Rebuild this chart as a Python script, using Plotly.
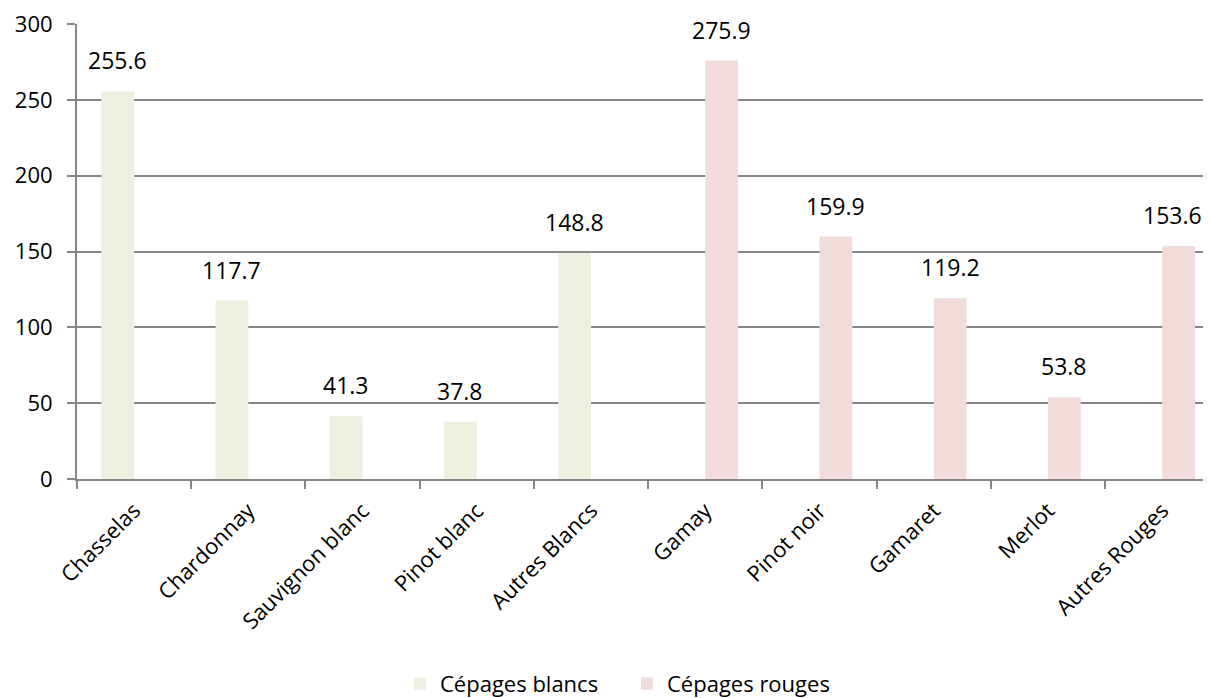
import plotly.graph_objects as go

categories = ["Chasselas", "Chardonnay", "Sauvignon blanc", "Pinot blanc", "Autres Blancs",
              "Gamay", "Pinot noir", "Gamaret", "Merlot", "Autres Rouges"]
blancs = [255.6, 117.7, 41.3, 37.8, 148.8, None, None, None, None, None]
rouges = [None, None, None, None, None, 275.9, 159.9, 119.2, 53.8, 153.6]
series_names = ["Cépages blancs", "Cépages rouges"]
y_ticks = [0, 50, 100, 150, 200, 250, 300]

GREEN = "#EBF1DE"
PINK = "#F2DCDB"
GRID = "#868686"
FONT = "Open Sans"

fig = go.Figure()
fig.add_trace(go.Bar(x=categories, y=blancs, name=series_names[0], marker_color=GREEN,
                     marker_line_width=0))
fig.add_trace(go.Bar(x=categories, y=rouges, name=series_names[1], marker_color=PINK,
                     marker_line_width=0))

annotations = []
for cat, v in zip(categories, blancs):
    if v is not None:
        annotations.append(dict(x=cat, y=v, text=f"{v:.1f}", showarrow=False,
                                xshift=-16.4, yshift=31, yanchor="middle",
                                font=dict(family=FONT, size=23, color="#000000")))
for i, (cat, v) in enumerate(zip(categories, rouges)):
    if v is not None:
        # keep the label at the clipped right edge fully visible
        shift = 16.4 if i < len(categories) - 1 else 10
        annotations.append(dict(x=cat, y=v, text=f"{v:.1f}", showarrow=False,
                                xshift=shift, yshift=31, yanchor="middle",
                                font=dict(family=FONT, size=23, color="#000000")))

# page body has an 8px margin: size the figure so it ends at the window edge
fig.update_layout(
    width=1203, height=690,
    margin=dict(l=69, r=0, t=16, b=219, autoexpand=False),
    paper_bgcolor="white", plot_bgcolor="white",
    barmode="group", bargap=0.426, bargroupgap=0,
    font=dict(family=FONT, size=22, color="#000000"),
    showlegend=True,
    legend=dict(orientation="h", x=0.485, xanchor="center", y=-0.45, yanchor="middle",
                font=dict(family=FONT, size=22, color="#000000"),
                traceorder="normal", entrywidth=182),
    annotations=annotations,
)
fig.update_xaxes(type="category", range=[-0.5, 9.427], tickangle=-45,
                 showline=True, linecolor=GRID, linewidth=2,
                 ticks="outside", ticklen=8, tickwidth=2, tickcolor=GRID,
                 tickson="boundaries", showgrid=False, ticklabelstandoff=8,
                 tickfont=dict(family=FONT, size=22, color="#000000"))
fig.update_yaxes(range=[0, 300.05], tickmode="array", tickvals=y_ticks,
                 ticklabeloverflow="allow",
                 showline=True, linecolor=GRID, linewidth=2,
                 ticks="outside", ticklen=8, tickwidth=2, tickcolor=GRID,
                 showgrid=True, gridcolor=GRID, gridwidth=2, zeroline=False,
                 ticklabelstandoff=10,
                 tickfont=dict(family=FONT, size=22, color="#000000"))

fig.write_html("out.html")
